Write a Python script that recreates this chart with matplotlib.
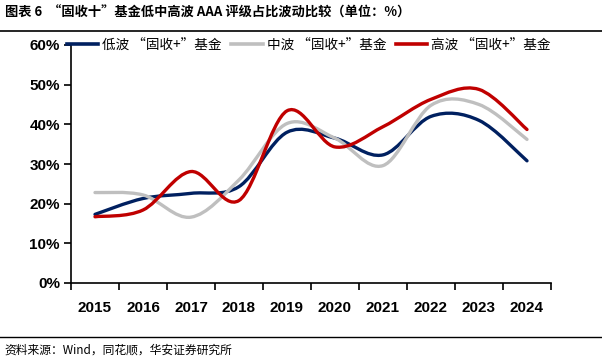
import matplotlib.pyplot as plt
import numpy as np
from matplotlib.path import Path
from matplotlib.patches import PathPatch
from matplotlib.lines import Line2D
from matplotlib.ticker import FuncFormatter, FixedLocator

plt.rcParams['font.family'] = ['Noto Sans CJK SC', 'DejaVu Sans']

years = ['2015', '2016', '2017', '2018', '2019', '2020', '2021', '2022', '2023', '2024']
low_vol = [17.3, 21.3, 22.6, 24.3, 38.0, 36.5, 32.3, 42.0, 41.0, 30.8]
mid_vol = [22.8, 22.2, 16.6, 26.0, 40.2, 36.5, 29.6, 44.8, 45.0, 36.2]
high_vol = [16.7, 18.4, 28.1, 20.8, 43.4, 34.3, 39.4, 46.3, 48.8, 38.7]
names = ['低波 “固收+”基金', '中波 “固收+”基金', '高波 “固收+”基金']
colors = ['#002060', '#BFBFBF', '#C00000']


def smooth_path(y):
    # excel-style smoothed line: cubic bezier segments through the points
    x = np.arange(len(y), dtype=float)
    y = np.asarray(y, dtype=float) / 100
    pts = np.column_stack([x, y])
    verts = [pts[0]]
    codes = [Path.MOVETO]
    n = len(pts)
    for i in range(n - 1):
        p0 = pts[i - 1] if i > 0 else pts[i]
        p1 = pts[i]
        p2 = pts[i + 1]
        p3 = pts[i + 2] if i + 2 < n else pts[i + 1]
        c1 = p1 + (p2 - p0) / 6
        c2 = p2 - (p3 - p1) / 6
        verts += [c1, c2, p2]
        codes += [Path.CURVE4] * 3
    return Path(verts, codes)


fig = plt.figure(figsize=(6.02, 3.58), dpi=100)
ax = fig.add_axes([71 / 602, 1 - 283 / 358, 480 / 602, 238 / 358])

handles = []
for vals, c, nm in zip([low_vol, mid_vol, high_vol], colors, names):
    ax.add_patch(PathPatch(smooth_path(vals), facecolor='none', edgecolor=c,
                           lw=2.4, capstyle='round', joinstyle='round'))
    handles.append(Line2D([], [], color=c, lw=2.6, label=nm))

ax.set_xlim(-0.5, len(years) - 0.5)
ax.set_ylim(0, 0.6)
ax.set_yticks(np.arange(0, 0.61, 0.1))
ax.yaxis.set_major_formatter(FuncFormatter(lambda v, p: f'{v * 100:.0f}%'))
ax.xaxis.set_major_locator(FixedLocator(np.arange(-0.5, len(years), 1)))
ax.xaxis.set_minor_locator(FixedLocator(np.arange(len(years))))
ax.set_xticklabels([])
ax.set_xticklabels(years, minor=True)
ax.tick_params(axis='x', which='minor', length=0, pad=13)
ax.tick_params(axis='x', which='major', length=5, width=1.2, direction='out')
ax.tick_params(axis='y', length=5, width=1.2, direction='out', pad=3)
for lab in ax.get_xticklabels(minor=True) + ax.get_yticklabels():
    lab.set_fontfamily(['Liberation Sans', 'DejaVu Sans'])
    lab.set_fontweight('bold')
    lab.set_fontsize(11)
for s in ['top', 'right']:
    ax.spines[s].set_visible(False)
ax.spines['left'].set_linewidth(1.2)
ax.spines['bottom'].set_linewidth(1.2)

leg = ax.legend(handles=handles, ncol=3, loc='upper left', bbox_to_anchor=(-0.02, 1.055),
                frameon=False, fontsize=9.8, handlelength=2.3, handletextpad=0.3,
                columnspacing=0.7, borderaxespad=0)

fig.text(0.008, 1 - 13 / 358, '图表 6  “固收十”基金低中高波 AAA 评级占比波动比较（单位：%）',
         fontsize=9.5, fontweight='bold', va='center', ha='left')
fig.add_artist(Line2D([0, 1], [1 - 30.5 / 358] * 2, color='black', lw=1.2))
fig.add_artist(Line2D([0, 1], [1 - 336.5 / 358] * 2, color='black', lw=1.0))
fig.text(0.008, 1 - 350 / 358, '资料来源：Wind，同花顺，华安证券研究所',
         fontsize=8.5, va='center', ha='left')

fig.savefig('out.png', dpi=100)
